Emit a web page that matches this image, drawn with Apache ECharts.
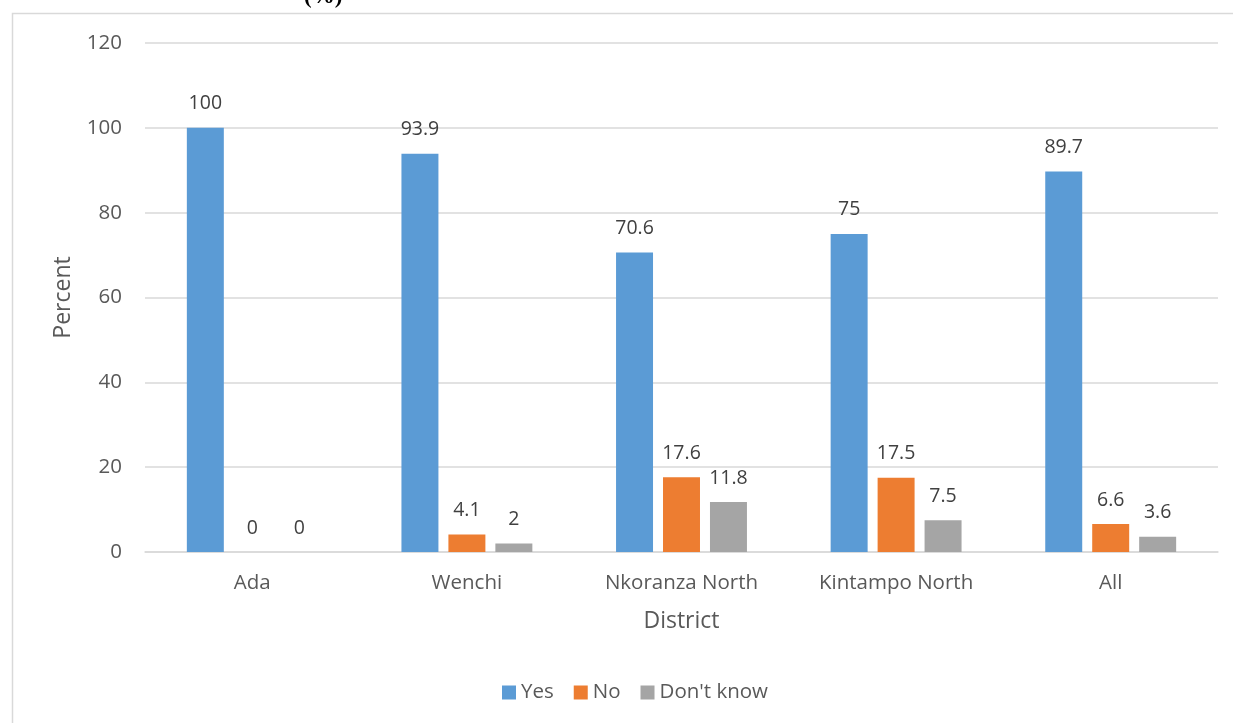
<!DOCTYPE html>
<html>
<head>
<meta charset="utf-8">
<script src="https://cdn.jsdelivr.net/npm/echarts@6/dist/echarts.min.js"></script>
<style>
  html, body { margin: 0; padding: 0; background: #fff; }
  #chart { width: 1233px; height: 723px; }
</style>
</head>
<body>
<div id="chart"></div>
<script>
// Districts surveyed, plus the pooled total
const districts = ['Ada', 'Wenchi', 'Nkoranza North', 'Kintampo North', 'All'];
// Share of responses per district (%)
const yesValues = [100, 93.9, 70.6, 75, 89.7];
const noValues = [0, 4.1, 17.6, 17.5, 6.6];
const dontKnowValues = [0, 2, 11.8, 7.5, 3.6];
const seriesNames = ['Yes', 'No', "Don't know"];
const seriesColors = ['#5b9bd5', '#ed7d31', '#a5a5a5'];
const yTicks = [0, 20, 40, 60, 80, 100, 120];

const FONT = '"Open Sans", "Liberation Sans", sans-serif';
const chart = echarts.init(document.getElementById('chart'));

const labelStyle = {
  show: true,
  position: 'top',
  distance: 14,
  color: '#404040',
  fontSize: 19.5,
  fontFamily: FONT
};

function makeSeries(name, data, color) {
  return {
    name: name,
    type: 'bar',
    data: data,
    barGap: '27%',
    barCategoryGap: '39%',
    itemStyle: { color: color },
    label: labelStyle
  };
}

chart.setOption({
  animation: false,
  backgroundColor: '#ffffff',
  textStyle: { fontFamily: FONT },
  graphic: [
    {
      type: 'rect',
      shape: { x: 12.5, y: 13.5, width: 1400, height: 900 },
      style: { fill: 'none', stroke: '#d9d9d9', lineWidth: 1.5 },
      silent: true
    },
    {
      type: 'text',
      left: 304,
      top: -14,
      style: {
        text: '(%)',
        font: 'bold 23px "Liberation Serif", "DejaVu Serif", serif',
        fill: '#000000'
      },
      silent: true
    }
  ],
  grid: { left: 145, right: 15, top: 43, bottom: 171, containLabel: false },
  legend: {
    data: seriesNames,
    bottom: 15,
    left: 497,
    itemWidth: 14,
    itemHeight: 14,
    itemGap: 20,
    icon: 'rect',
    textStyle: { color: '#595959', fontSize: 20.5, fontFamily: FONT }
  },
  xAxis: {
    type: 'category',
    data: districts,
    name: 'District',
    nameLocation: 'middle',
    nameGap: 58,
    nameTextStyle: { color: '#595959', fontSize: 23, fontFamily: FONT },
    axisLine: { lineStyle: { color: '#d9d9d9', width: 1.5 } },
    axisTick: { show: false },
    axisLabel: { color: '#595959', fontSize: 20.5, margin: 21, fontFamily: FONT }
  },
  yAxis: {
    type: 'value',
    min: yTicks[0],
    max: yTicks[yTicks.length - 1],
    interval: yTicks[1] - yTicks[0],
    name: 'Percent',
    nameLocation: 'middle',
    nameGap: 70,
    nameTextStyle: { color: '#595959', fontSize: 23, fontFamily: FONT },
    axisLine: { show: false },
    axisTick: { show: false },
    splitLine: { lineStyle: { color: '#d9d9d9', width: 1.5 } },
    axisLabel: { color: '#595959', fontSize: 20.5, margin: 23, fontFamily: FONT }
  },
  series: [
    makeSeries(seriesNames[0], yesValues, seriesColors[0]),
    makeSeries(seriesNames[1], noValues, seriesColors[1]),
    makeSeries(seriesNames[2], dontKnowValues, seriesColors[2])
  ]
});
</script>
</body>
</html>
